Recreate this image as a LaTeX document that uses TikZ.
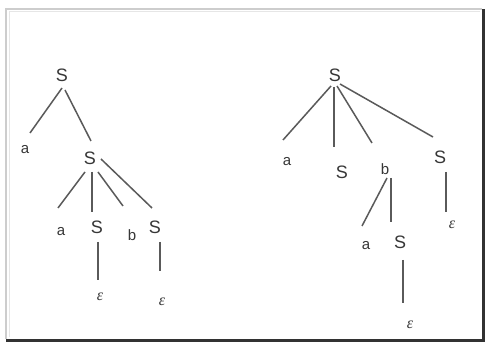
\documentclass[tikz,border=0pt]{standalone}
\usepackage{fontspec}
\setmainfont{Liberation Sans}
\newfontfamily\epsfont{Liberation Serif}
\definecolor{ln}{RGB}{90,90,90}
\definecolor{tx}{RGB}{55,55,55}
\definecolor{lightfr}{RGB}{205,205,205}
\definecolor{darkfr}{RGB}{50,50,50}
\begin{document}
\begin{tikzpicture}[x=1pt,y=-1pt,
  nt/.style={inner sep=0pt,text=tx,font=\fontsize{18}{18}\selectfont},
  tt/.style={inner sep=0pt,text=tx,font=\fontsize{15}{15}\selectfont},
  et/.style={inner sep=0pt,text=tx,font=\epsfont\itshape\fontsize{16}{16}\selectfont},
  edge/.style={draw=ln,line width=1.5pt}]
\useasboundingbox (0,0) rectangle (485,344);
\fill[white] (0,0) rectangle (485,344);
% frame
\draw[lightfr,line width=2.5pt] (6,339) -- (6,9) -- (482,9);
\draw[lightfr!50,line width=1pt] (9,337) -- (9,12) -- (480,12);
\draw[darkfr,line width=3pt] (6,340.5) -- (483.5,340.5) -- (483.5,9);
% left tree
\node[nt] (S1) at (62,75) {S};
\node[tt] (a1) at (25,150) {a};
\node[nt] (S2) at (90,158) {S};
\node[tt] (a2) at (61,232) {a};
\node[nt] (S3) at (97,227) {S};
\node[tt] (b1) at (132,235) {b};
\node[nt] (S4) at (155,227) {S};
\node[et] (e1) at (100,297) {ε};
\node[et] (e2) at (162,302) {ε};
% right tree
\node[nt] (S5) at (335,75) {S};
\node[tt] (a3) at (287,162) {a};
\node[nt] (S6) at (342,172) {S};
\node[tt] (b2) at (385,169) {b};
\node[nt] (S7) at (440,157) {S};
\node[tt] (a4) at (366,246) {a};
\node[nt] (S8) at (400,242) {S};
\node[et] (e3) at (410,325) {ε};
\node[et] (e4) at (452,225) {ε};
% edges left
\draw[edge] ([shift={(0,13)}]S1.center) -- ([shift={(5,-17)}]a1.center);
\draw[edge] ([shift={(3,15)}]S1.center) -- ([shift={(1,-17)}]S2.center);
\draw[edge] ([shift={(-5,14)}]S2.center) -- ([shift={(-3,-24)}]a2.center);
\draw[edge] ([shift={(2,14)}]S2.center) -- ([shift={(-5,-15)}]S3.center);
\draw[edge] ([shift={(8,14)}]S2.center) -- ([shift={(-9,-29)}]b1.center);
\draw[edge] ([shift={(11,1)}]S2.center) -- ([shift={(-3,-19)}]S4.center);
\draw[edge] ([shift={(1,15)}]S3.center) -- ([shift={(-2,-17)}]e1.center);
\draw[edge] ([shift={(5,15)}]S4.center) -- ([shift={(-2,-31)}]e2.center);
% edges right
\draw[edge] ([shift={(-4,11)}]S5.center) -- ([shift={(-4,-22)}]a3.center);
\draw[edge] ([shift={(-1,12)}]S5.center) -- ([shift={(-8,-25)}]S6.center);
\draw[edge] ([shift={(2,11)}]S5.center) -- ([shift={(-13,-26)}]b2.center);
\draw[edge] ([shift={(5,9)}]S5.center) -- ([shift={(-7,-20)}]S7.center);
\draw[edge] ([shift={(2,9)}]b2.center) -- ([shift={(-4,-20)}]a4.center);
\draw[edge] ([shift={(6,9)}]b2.center) -- ([shift={(-9,-20)}]S8.center);
\draw[edge] ([shift={(3,18)}]S8.center) -- ([shift={(-7,-22)}]e3.center);
\draw[edge] ([shift={(6,15)}]S7.center) -- ([shift={(-6,-13)}]e4.center);
\end{tikzpicture}
\end{document}
